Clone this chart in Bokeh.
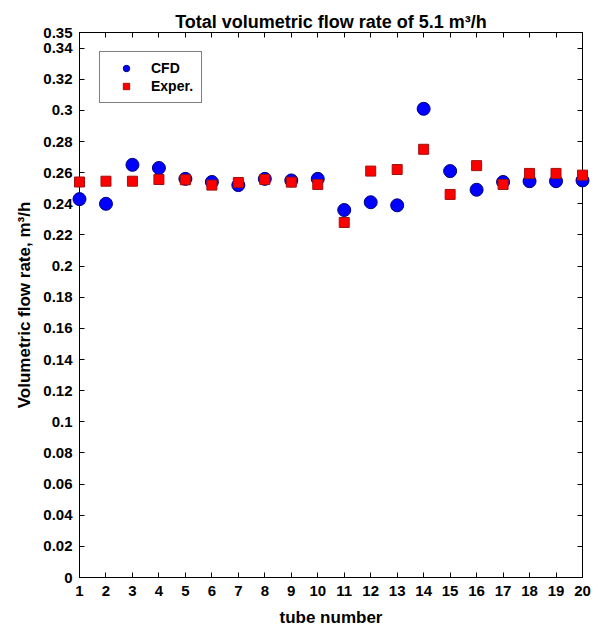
from bokeh.plotting import figure
from bokeh.models import (LinearAxis, FixedTicker, CustomJSTickFormatter, Range1d,
                          Legend, LegendItem)
from bokeh.embed import file_html
from bokeh.resources import INLINE

tubes = [1, 2, 3, 4, 5, 6, 7, 8, 9, 10, 11, 12, 13, 14, 15, 16, 17, 18, 19, 20]
cfd = [0.243, 0.240, 0.265, 0.263, 0.256, 0.254, 0.252, 0.256, 0.255, 0.256,
       0.236, 0.241, 0.239, 0.301, 0.261, 0.249, 0.254, 0.2545, 0.2545, 0.255]
exper = [0.254, 0.2545, 0.2545, 0.2556, 0.2554, 0.252, 0.2537, 0.2556, 0.2539, 0.2524,
         0.228, 0.261, 0.262, 0.275, 0.246, 0.2645, 0.2524, 0.2595, 0.2595, 0.2584]
x_ticks = tubes
y_ticks = [0, 0.02, 0.04, 0.06, 0.08, 0.1, 0.12, 0.14, 0.16, 0.18, 0.2,
           0.22, 0.24, 0.26, 0.28, 0.3, 0.32, 0.34, 0.35]

FONT = "Liberation Sans"

p = figure(width=598, height=629, output_backend="svg", toolbar_location=None,
           x_range=Range1d(1, 20), y_range=Range1d(0, 0.35),
           min_border_left=79, min_border_right=16, min_border_top=32, min_border_bottom=52,
           title="Total volumetric flow rate of 5.1 m³/h")
p.title.text_font = FONT
p.title.text_font_size = "18px"
p.title.text_font_style = "bold"
p.title.text_color = "black"
p.title.align = "center"
p.title.standoff = 2
p.xgrid.visible = False
p.ygrid.visible = False
p.outline_line_color = "black"
p.background_fill_color = "white"
p.border_fill_color = "white"

fmt = CustomJSTickFormatter(code="return String(Number(tick.toFixed(2)));")
blank = CustomJSTickFormatter(code="return '';")

def style(ax, ticks, formatter, show):
    ax.ticker = FixedTicker(ticks=ticks)
    ax.formatter = formatter
    ax.major_tick_in = 5
    ax.major_tick_out = 0
    ax.minor_tick_line_color = None
    ax.axis_line_color = "black"
    ax.major_tick_line_color = "black"
    ax.major_label_text_font = FONT
    ax.major_label_text_font_style = "bold"
    ax.major_label_text_font_size = "15px" if show else "1px"
    ax.major_label_text_color = "black"
    ax.axis_label_text_font = FONT
    ax.axis_label_text_font_style = "bold"
    ax.axis_label_text_font_size = "17px"
    ax.axis_label_text_color = "black"

style(p.xaxis[0], x_ticks, fmt, True)
style(p.yaxis[0], y_ticks, fmt, True)
p.xaxis[0].axis_label = "tube number"
p.xaxis[0].major_label_standoff = 8
p.xaxis[0].axis_label_standoff = 9
p.yaxis[0].axis_label = "Volumetric flow rate, m³/h"
p.yaxis[0].major_label_standoff = 7
p.yaxis[0].axis_label_standoff = 6

top = LinearAxis()
style(top, x_ticks, blank, False)
top.major_label_standoff = 0
p.add_layout(top, "above")
right = LinearAxis()
style(right, y_ticks, blank, False)
right.major_label_standoff = 0
p.add_layout(right, "right")

r1 = p.scatter(tubes, cfd, marker="circle", size=13, fill_color="#0000ff",
               line_color="#00007a", line_width=1, level="overlay")
r2 = p.scatter(tubes, exper, marker="square", size=10, fill_color="#ff0000",
               line_color="#a01010", line_width=1, level="overlay")

legend = Legend(items=[LegendItem(label="CFD", renderers=[r1]),
                       LegendItem(label="Exper.", renderers=[r2])],
                location=(20, 474), margin=0, padding=8, spacing=2,
                glyph_width=36, glyph_height=16, label_height=16, label_standoff=7,
                border_line_color="black", border_line_width=1,
                background_fill_color="white", background_fill_alpha=1,
                label_text_font=FONT, label_text_font_style="bold",
                label_text_font_size="14px", label_text_color="black")
p.add_layout(legend)

open("out.html", "w").write(file_html(p, INLINE))
